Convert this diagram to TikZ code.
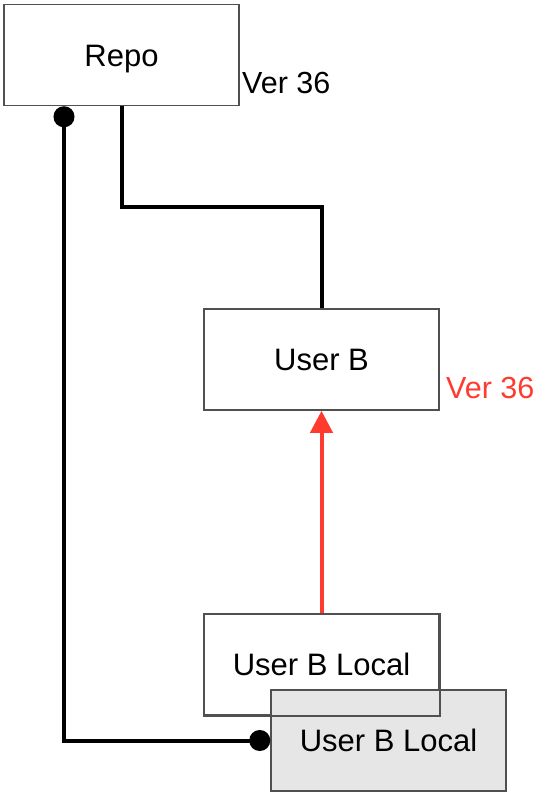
\documentclass[tikz,border=0pt]{standalone}
\usepackage{fontspec}
\setmainfont{Liberation Sans}
\usetikzlibrary{arrows.meta}
\definecolor{myred}{HTML}{FF3B30}
\definecolor{mygray}{HTML}{E6E6E6}
\definecolor{myborder}{HTML}{505050}
\begin{document}
\begin{tikzpicture}[x=1pt,y=-1pt,
  boxstyle/.style={draw=myborder,line width=1.5pt,fill=white,minimum width=235pt,minimum height=101pt,inner sep=0pt,
    font=\fontsize{31}{37}\selectfont,text height=22pt,text depth=0pt},
  conn/.style={line width=4pt,black},
  redconn/.style={line width=4pt,myred},
  verlabel/.style={anchor=base west,inner sep=0pt,font=\fontsize{30.5}{37}\selectfont}]
\useasboundingbox (0,0) rectangle (539,801);
\node[boxstyle] (repo) at (121.5,55) {Repo};
\node[verlabel] (v1) at (242,93) {Ver 36};
\node[boxstyle] (userb) at (321.5,359.5) {User B};
\node[verlabel,text=myred] (v2) at (446,398) {Ver 36};
\node[boxstyle] (local1) at (321.5,664.5) {User B Local};
\node[boxstyle,fill=mygray] (local2) at (388.5,740.5) {User B Local};
\draw[myborder,line width=1.5pt] (local1.north west) rectangle (local1.south east);
\draw[conn] (repo.south) -- ++(0,101) -| (userb.north);
\draw[conn,{Circle[length=21pt,width=21pt]}-{Circle[length=21pt,width=21pt]}] ([xshift=-57.5pt]repo.south) |- (local2.west);
\draw[redconn,-{Triangle[length=22pt,width=22pt]}] (local1.north) -- (userb.south);
\end{tikzpicture}
\end{document}
